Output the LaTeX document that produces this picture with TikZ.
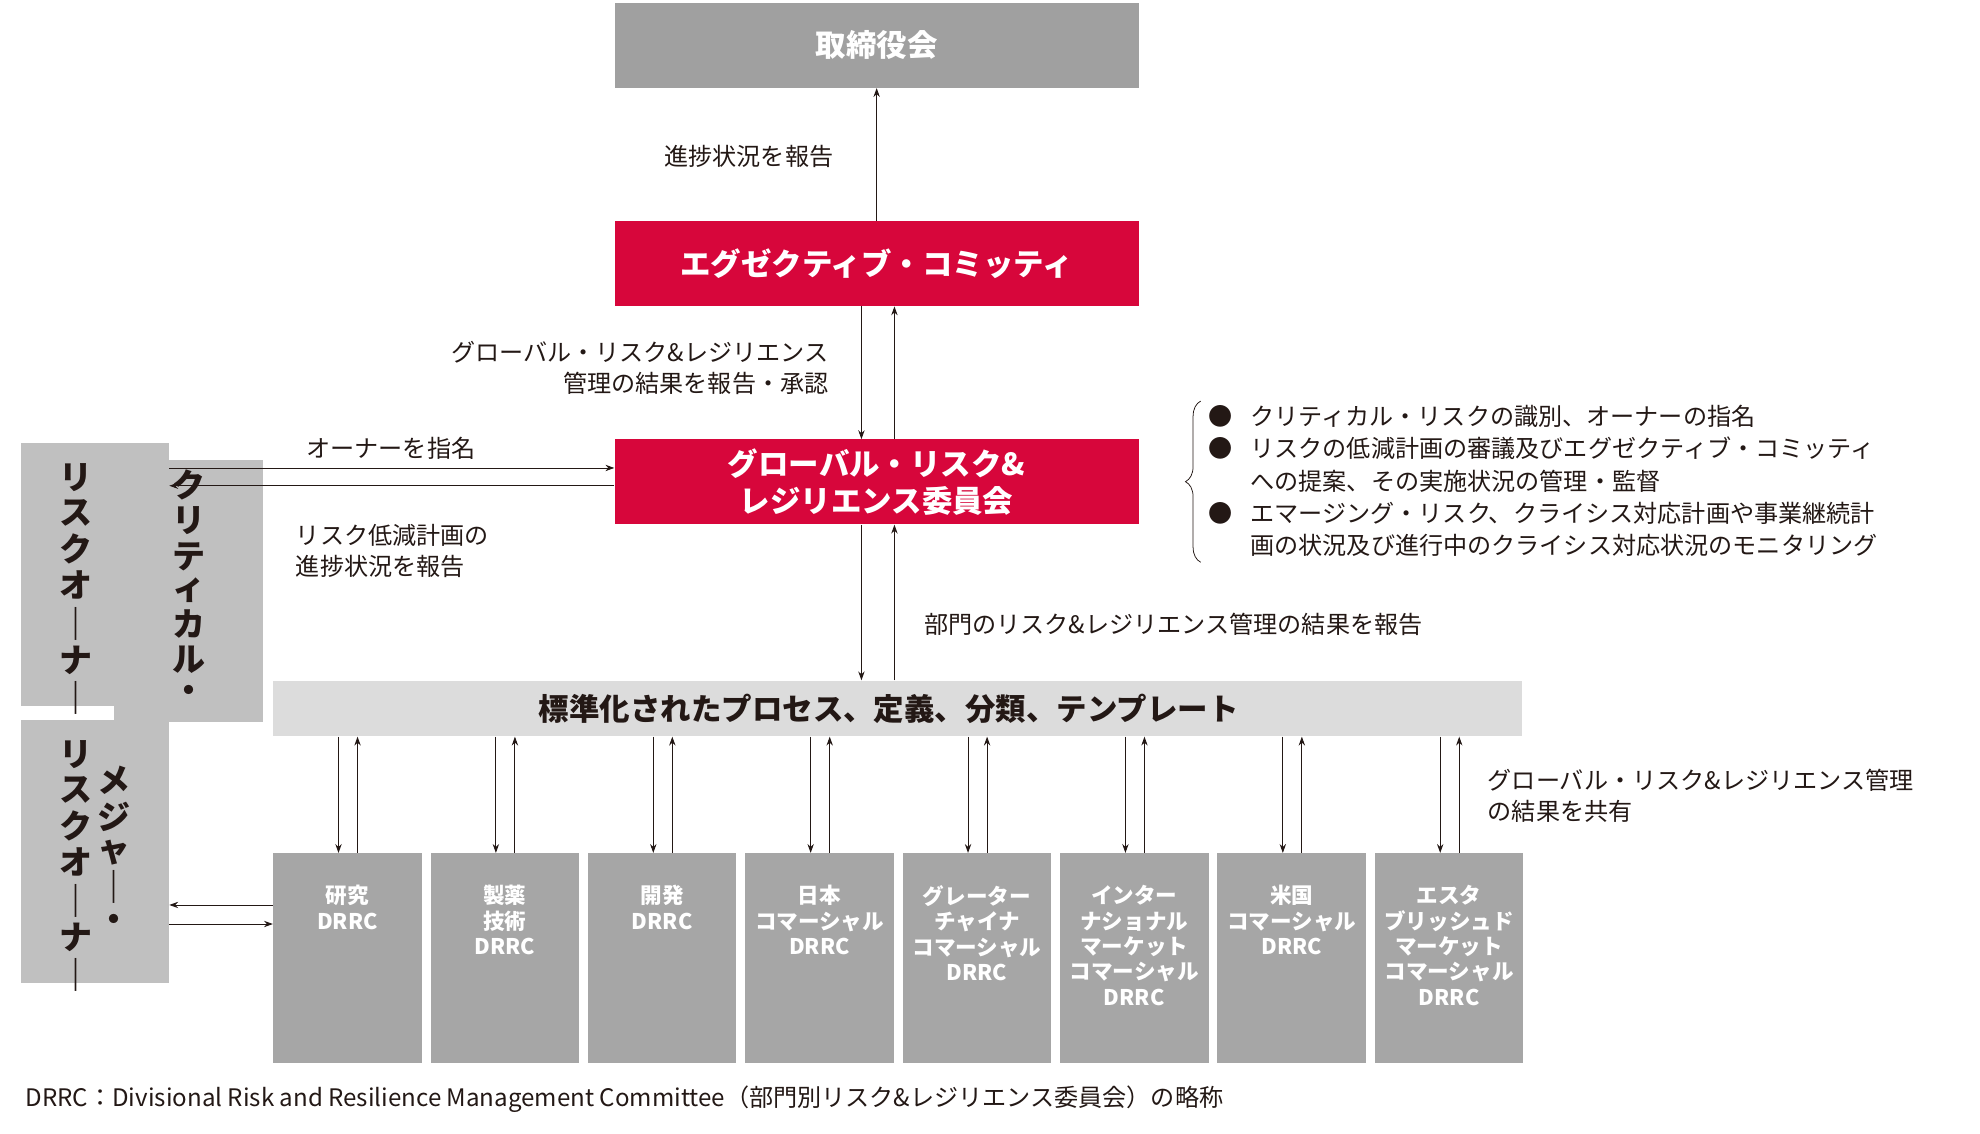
\documentclass[tikz,border=0pt]{standalone}
\usepackage{fontspec}
\setmainfont{Noto Sans CJK JP}
\usetikzlibrary{arrows.meta,decorations.pathreplacing}
\definecolor{boardgray}{HTML}{A0A0A0}
\definecolor{ownergray}{HTML}{C0C0C0}
\definecolor{bargray}{HTML}{DCDCDC}
\definecolor{drrcgray}{HTML}{A6A6A6}
\definecolor{riskred}{HTML}{D7063B}
\definecolor{ink}{HTML}{231815}
\newcommand{\vstack}[1]{\begin{tabular}{@{}c@{}}#1\end{tabular}}
\tikzset{
	topbox/.style={anchor=north west, minimum width=413pt, minimum height=67pt, inner sep=0pt, text=white, align=center, font=\fontsize{24}{31}\selectfont\bfseries},
	ownerbox/.style={anchor=north west, fill=ownergray, minimum width=117pt, minimum height=207pt, inner sep=0pt, text=ink, font=\fontsize{26}{25}\selectfont\bfseries},
	drrcbox/.style={anchor=north west, fill=drrcgray, minimum width=117pt, minimum height=165pt, inner sep=0pt},
	drrctext/.style={anchor=north, align=center, text=white, font=\fontsize{17}{20}\selectfont\bfseries},
	lbl/.style={text=ink, font=\fontsize{19}{25}\selectfont, inner sep=0pt},
	conn/.style={-{Stealth[length=7pt,width=5pt]}, ink, line width=0.7pt}
}
\begin{document}
\begin{tikzpicture}[x=1pt, y=-1pt]
	\useasboundingbox (0,0) rectangle (1560,893);

	\node[topbox, fill=boardgray] (board) at (484,2) {取締役会};
	\node[topbox, fill=riskred] (exec) at (484,174) {エグゼクティブ・コミッティ};
	\node[topbox, fill=riskred, font=\fontsize{24}{29}\selectfont\bfseries] (grc) at (484,346) {グローバル・リスク\&\\レジリエンス委員会};
	\node[anchor=north west, fill=bargray, minimum width=984pt, minimum height=44pt, inner sep=0pt,
		text=ink, font=\fontsize{24}{28}\selectfont\bfseries] (std) at (215,536) {\hspace*{-14pt}標準化されたプロセス、定義、分類、テンプレート};

	% owners
	\node[ownerbox] (crit) at (16,349) {};
	\node[ownerbox] (major) at (16,567) {};
	\node[anchor=north, ownerbox/.try, font=\fontsize{26}{25}\selectfont\bfseries, text=ink] at (90,362) {\vstack{ク\\リ\\テ\\ィ\\カ\\ル\\・}};
	\node[anchor=north, font=\fontsize{26}{25}\selectfont\bfseries, text=ink] at (60,362) {\vstack{リ\\ス\\ク\\オ\\｜\\ナ\\｜}};
	\node[anchor=north, font=\fontsize{26}{25}\selectfont\bfseries, text=ink] at (90,600) {\vstack{メ\\ジ\\ャ\\｜\\・}};
	\node[anchor=north, font=\fontsize{26}{25}\selectfont\bfseries, text=ink] at (60,580) {\vstack{リ\\ス\\ク\\オ\\｜\\ナ\\｜}};

	% divisional committees
	\foreach \t [count=\i] in {{研究\\DRRC}, {製薬\\技術\\DRRC}, {開発\\DRRC}, {日本\\コマーシャル\\DRRC},
		{グレーター\\チャイナ\\コマーシャル\\DRRC}, {インター\\ナショナル\\マーケット\\コマーシャル\\DRRC},
		{米国\\コマーシャル\\DRRC}, {エスタ\\ブリッシュド\\マーケット\\コマーシャル\\DRRC}}{
		\node[drrcbox] (d\i) at ({215+(\i-1)*124},672) {};
		\node[drrctext] at ([yshift=-22pt]d\i.north) {\t};
		\draw[conn] ([xshift=-7pt]std.south -| d\i.north) -- ([xshift=-7pt]d\i.north);
		\draw[conn] ([xshift=8pt]d\i.north) -- ([xshift=8pt]std.south -| d\i.north);
	}

	\draw[conn] (exec.north) -- (board.south);
	\draw[conn] ([xshift=-12pt]exec.south) -- ([xshift=-12pt]grc.north);
	\draw[conn] ([xshift=14pt]grc.north) -- ([xshift=14pt]exec.south);
	\draw[conn] ([xshift=-12pt]grc.south) -- ([xshift=-12pt]std.north -| grc.south);
	\draw[conn] ([xshift=14pt]std.north -| grc.south) -- ([xshift=14pt]grc.south);
	\draw[conn] ([yshift=-3pt]grc.west) -- ([yshift=-3pt]grc.west -| crit.east);
	\draw[conn] ([yshift=11pt]grc.west -| crit.east) -- ([yshift=11pt]grc.west);
	\draw[conn] (d1.north west |- 0,713) -- (major.east |- 0,713);
	\draw[conn] (major.east |- 0,728) -- (d1.north west |- 0,728);

	\node[lbl] at (590,123) {進捗状況を報告};
	\node[lbl, anchor=east, align=right] at (653,290) {グローバル・リスク\&レジリエンス\\管理の結果を報告・承認};
	\node[lbl] at (308,353) {オーナーを指名};
	\node[lbl, anchor=west, align=left] at (233,434) {リスク低減計画の\\進捗状況を報告};
	\node[lbl, anchor=west] at (728,492) {部門のリスク\&レジリエンス管理の結果を報告};
	\node[lbl, anchor=west, align=left] at (1172,627) {グローバル・リスク\&レジリエンス管理\\の結果を共有};
	\node[lbl, anchor=west, align=left, font=\fontsize{19}{25.5}\selectfont] at (952,379) {%
		\makebox[33pt][l]{●}クリティカル・リスクの識別、オーナーの指名\\
		\makebox[33pt][l]{●}リスクの低減計画の審議及びエグゼクティブ・コミッティ\\
		\hspace*{33pt}への提案、その実施状況の管理・監督\\
		\makebox[33pt][l]{●}エマージング・リスク、クライシス対応計画や事業継続計\\
		\hspace*{33pt}画の状況及び進行中のクライシス対応状況のモニタリング};
	\draw[ink, line width=0.6pt, decoration={brace, amplitude=12pt}, decorate]
		(946,443) -- (946,316);
	\node[lbl, anchor=west] at (20,866) {DRRC：Divisional Risk and Resilience Management Committee（部門別リスク\&レジリエンス委員会）の略称};
\end{tikzpicture}
\end{document}
